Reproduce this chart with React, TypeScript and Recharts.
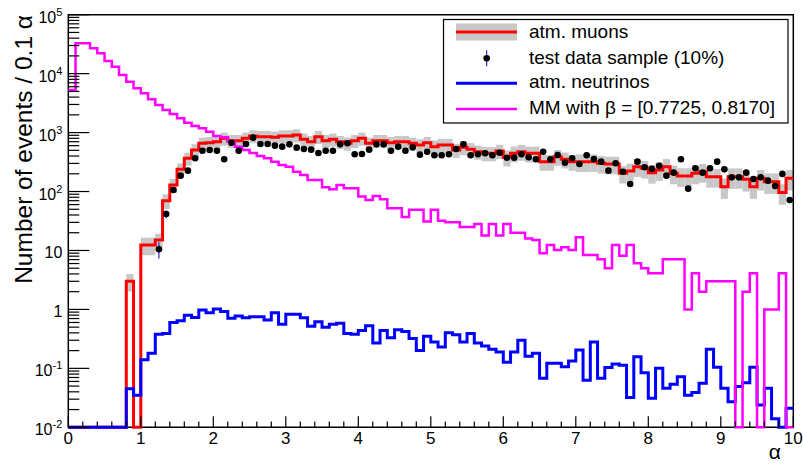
import React from "react";
import {
  ComposedChart,
  Line,
  Scatter,
  ErrorBar,
  XAxis,
  YAxis,
  ReferenceArea,
} from "recharts";

// 100 bins of 0.1 in alpha, from 0 to 10 (counts per bin, 0 = empty bin)
const muonCounts = [
  0, 0, 0, 0, 0, 0, 0, 0, 3.0, 0,
  12.4, 12.4, 15, 70, 129, 238, 366, 507, 658, 674,
  700, 800, 730, 730, 800, 875, 853, 853, 832, 875,
  875, 910, 769, 701, 853, 730, 769, 701, 658, 730,
  800, 658, 730, 730, 674, 701, 701, 658, 617, 674,
  577, 617, 617, 507, 563, 521, 474, 446, 446, 488,
  381, 446, 474, 445, 445, 321, 321, 390, 352, 321,
  321, 321, 321, 301, 293, 293, 204, 223, 264, 248,
  209, 232, 264, 204, 184, 184, 204, 217, 179, 179,
  121, 179, 179, 161, 121, 168, 147, 147, 96, 168,
];

// relative size of the grey uncertainty band around the muon histogram
const muonRelErr = [
  0.33, 0.33, 0.33, 0.33, 0.33, 0.33, 0.33, 0.33, 0.33, 0.33,
  0.33, 0.33, 0.28, 0.28, 0.27, 0.26, 0.25, 0.25, 0.25, 0.25,
  0.25, 0.25, 0.25, 0.25, 0.25, 0.25, 0.25, 0.25, 0.25, 0.25,
  0.25, 0.25, 0.25, 0.25, 0.25, 0.25, 0.25, 0.25, 0.25, 0.25,
  0.25, 0.25, 0.25, 0.25, 0.25, 0.25, 0.25, 0.25, 0.25, 0.25,
  0.27, 0.27, 0.27, 0.27, 0.27, 0.27, 0.27, 0.27, 0.27, 0.27,
  0.3, 0.3, 0.3, 0.3, 0.3, 0.3, 0.3, 0.3, 0.3, 0.3,
  0.33, 0.33, 0.33, 0.33, 0.33, 0.33, 0.33, 0.33, 0.33, 0.33,
  0.35, 0.35, 0.35, 0.35, 0.35, 0.35, 0.35, 0.35, 0.35, 0.35,
  0.38, 0.38, 0.38, 0.38, 0.38, 0.38, 0.38, 0.38, 0.38, 0.38,
];

const neutrinoCounts = [
  0, 0, 0, 0, 0, 0, 0, 0, 0.045, 0.035,
  0.14, 0.18, 0.38, 0.39, 0.6, 0.64, 0.8, 0.73, 0.98, 0.88,
  1.02, 0.92, 0.71, 0.77, 0.72, 0.75, 0.75, 0.66, 0.88, 0.56,
  0.83, 0.83, 0.72, 0.52, 0.62, 0.5, 0.56, 0.58, 0.39, 0.38,
  0.44, 0.53, 0.27, 0.44, 0.33, 0.45, 0.42, 0.32, 0.2, 0.35,
  0.28, 0.23, 0.4, 0.37, 0.28, 0.39, 0.27, 0.24, 0.21, 0.19,
  0.127, 0.19, 0.3, 0.16, 0.18, 0.068, 0.122, 0.122, 0.107, 0.133,
  0.205, 0.063, 0.28, 0.068, 0.103, 0.119, 0.113, 0.032, 0.158, 0.084,
  0.031, 0.1, 0.046, 0.054, 0.072, 0.035, 0.039, 0.056, 0.21, 0.104,
  0.046, 0.027, 0.049, 0.057, 0.104, 0.024, 0.046, 0.014, 0, 0.021,
];

const mmCounts = [
  5300, 32700, 32700, 26900, 22100, 16400, 13100, 9500, 7300, 5650,
  4640, 3670, 2940, 2420, 2070, 1750, 1470, 1290, 1180, 1035,
  875, 830, 700, 577, 507, 450, 400, 366, 321, 282,
  264, 217, 191, 157, 157, 118, 109, 129, 114, 114,
  82, 72, 84, 74, 52, 52, 37, 49, 49, 31,
  49, 32, 30, 30, 25, 25, 28, 18, 28, 18,
  28, 20, 20, 16, 15, 9, 12.4, 10.2, 11.3, 10.2,
  16.7, 8.4, 8.4, 7.1, 5.0, 12.4, 8.1, 12.4, 6.1, 5.0,
  4.1, 4.1, 7.1, 7.1, 7.1, 1.0, 4.1, 2.0, 3.0, 3.0,
  3.0, 3.0, 0, 2.0, 4.1, 0, 1.0, 1.0, 4.1, 0,
];

const dataCounts = [
  0, 0, 0, 0, 0, 0, 0, 0, 0, 0,
  0, 0, 10.5, 41.6, 106, 186, 226, 366, 493, 507,
  493, 352, 674, 493, 641, 820, 641, 641, 600, 577,
  632, 555, 527, 513, 451, 493, 493, 632, 658, 428,
  433, 513, 632, 632, 493, 577, 493, 562, 422, 474,
  412, 412, 428, 527, 632, 412, 428, 446, 412, 456,
  375, 376, 428, 381, 352, 474, 352, 417, 309, 366,
  293, 412, 357, 321, 226, 301, 217, 134, 321, 258,
  244, 274, 186, 209, 352, 112, 248, 209, 248, 321,
  238, 174, 174, 209, 163, 174, 153, 124, 199, 72,
];

const legendLabels = [
  "atm. muons",
  "test data sample (10%)",
  "atm. neutrinos",
  "MM with β = [0.7725, 0.8170]",
];
const yTitle = "Number of events / 0.1 α";
const xTitle = "α";

const Y_MIN = 0.01;
const Y_MAX = 100000;
const FONT = '"Liberation Sans", Arial, Helvetica, sans-serif';

// bin edges -> step rows (last edge repeats bin 99 so the step closes at 10)
const histRows = Array.from({ length: 101 }, (_, k) => {
  const b = Math.min(k, 99);
  return {
    x: k / 10,
    muon: Math.max(muonCounts[b], Y_MIN),
    nu: Math.max(neutrinoCounts[b], Y_MIN),
    mm: Math.max(mmCounts[b], Y_MIN),
  };
});

// data points at bin centres, poisson errors
const dataPoints = dataCounts.flatMap((v, k) =>
  v > 0 ? [{ x: (k + 0.5) / 10, y: v, err: Math.sqrt(v) }] : []
);

const xTicks = Array.from({ length: 51 }, (_, i) => (i * 2) / 10);
const yTicks: number[] = [];
for (let e = -2; e <= 4; e++) {
  for (let m = 1; m <= 9; m++) yTicks.push(Number((m * Math.pow(10, e)).toPrecision(3)));
}
yTicks.push(Y_MAX);

const renderXTick = (props: any) => {
  const { x, y, payload } = props;
  const v = payload.value;
  const major = Math.abs(v - Math.round(v)) < 1e-6;
  return (
    <g>
      <line x1={x} x2={x} y1={y} y2={y - (major ? 11 : 5.7)} stroke="#000" strokeWidth={1.2} />
      {major && (
        <text x={x} y={y + 17} textAnchor="middle" fontSize={17} fontFamily={FONT} fill="#000">
          {Math.round(v)}
        </text>
      )}
    </g>
  );
};

const renderYTick = (props: any) => {
  const { x, y, payload } = props;
  const v = payload.value;
  const e = Math.log10(v);
  const n = Math.round(e);
  const major = Math.abs(e - n) < 1e-6;
  let label: React.ReactNode = null;
  if (major) {
    label =
      n === 0 ? "1" : n === 1 ? "10" : (
        <>
          <tspan>10</tspan>
          <tspan dy={-7} fontSize={11}>{String(n)}</tspan>
        </>
      );
  }
  return (
    <g>
      <line x1={x} x2={x + (major ? 21 : 11)} y1={y} y2={y} stroke="#000" strokeWidth={1.2} />
      {major && (
        <text x={x - 6} y={y + 8} textAnchor="end" fontSize={16} fontFamily={FONT} fill="#000">
          {label}
        </text>
      )}
    </g>
  );
};

function LegendBox() {
  const rowY = [13, 39.3, 64.3, 90];
  const textY = [18.7, 45, 69.3, 95];
  return (
    <g transform="translate(443,19)">
      <rect x={0.5} y={0.5} width={344.5} height={103.5} fill="#fff" stroke="#000" strokeWidth={1.2} />
      <rect x={13} y={rowY[0] - 8.5} width={61} height={17} fill="#c8c8c8" />
      <line x1={13} x2={74} y1={rowY[0]} y2={rowY[0]} stroke="#ff0000" strokeWidth={3} />
      <line x1={43.7} x2={43.7} y1={rowY[1] - 8} y2={rowY[1] + 8} stroke="#0000cc" strokeWidth={1} />
      <circle cx={43.7} cy={rowY[1]} r={3.3} fill="#000" />
      <line x1={13} x2={74} y1={rowY[2]} y2={rowY[2]} stroke="#0000ff" strokeWidth={3} />
      <line x1={13} x2={74} y1={rowY[3]} y2={rowY[3]} stroke="#ff00ff" strokeWidth={2.5} />
      {legendLabels.map((t, i) => (
        <text key={t} x={86} y={textY[i]} fontSize={19} fontFamily={FONT} fill="#000">
          {t}
        </text>
      ))}
    </g>
  );
}

export default function App() {
  return (
    <div style={{ position: "absolute", left: 0, top: 0, width: 803, height: 465, background: "#fff" }}>
      <ComposedChart
        width={803}
        height={465}
        data={histRows}
        margin={{ top: 14.7, right: 9.7, bottom: 7.7, left: 8.3 }}
      >
        <XAxis
          type="number"
          dataKey="x"
          domain={[0, 10]}
          ticks={xTicks}
          interval={0}
          tick={renderXTick}
          tickLine={false}
          axisLine={false}
          tickSize={0}
          tickMargin={0}
          height={30}
        />
        <YAxis
          type="number"
          scale="log"
          domain={[Y_MIN, Y_MAX]}
          ticks={yTicks}
          interval={0}
          tick={renderYTick}
          tickLine={false}
          axisLine={false}
          tickSize={0}
          tickMargin={0}
          width={60}
        />
        {muonCounts.map((v, k) =>
          v > 0 ? (
            <ReferenceArea
              key={"band" + k}
              x1={k / 10}
              x2={(k + 1) / 10}
              y1={v * (1 - muonRelErr[k])}
              y2={v * (1 + muonRelErr[k])}
              fill="#c8c8c8"
              fillOpacity={1}
              stroke="none"
            />
          ) : null
        )}
        <ReferenceArea
          x1={0}
          x2={10}
          y1={Y_MIN}
          y2={Y_MAX}
          fill="none"
          fillOpacity={0}
          stroke="#000"
          strokeWidth={1.5}
        />
        <Line
          type="stepAfter"
          dataKey="muon"
          stroke="#ff0000"
          strokeWidth={3}
          dot={false}
          activeDot={false}
          isAnimationActive={false}
        />
        <Scatter
          data={dataPoints}
          dataKey="y"
          fill="#000"
          isAnimationActive={false}
          shape={(p: any) => <circle cx={p.cx} cy={p.cy} r={3.3} fill="#000" />}
        >
          <ErrorBar dataKey="err" direction="y" width={0} stroke="#0000cc" strokeWidth={1} />
        </Scatter>
        <Line
          type="stepAfter"
          dataKey="nu"
          stroke="#0000ff"
          strokeWidth={3}
          dot={false}
          activeDot={false}
          isAnimationActive={false}
        />
        <Line
          type="stepAfter"
          dataKey="mm"
          stroke="#ff00ff"
          strokeWidth={2.5}
          dot={false}
          activeDot={false}
          isAnimationActive={false}
        />
      </ComposedChart>
      <svg
        width={803}
        height={465}
        style={{ position: "absolute", left: 0, top: 0, pointerEvents: "none" }}
      >
        <text
          transform="translate(32,15) rotate(-90)"
          textAnchor="end"
          fontSize={24.5}
          fontFamily={FONT}
          fill="#000"
        >
          {yTitle}
        </text>
        <text x={781} y={459} textAnchor="end" fontSize={21} fontFamily={FONT} fill="#000">
          {xTitle}
        </text>
        <LegendBox />
      </svg>
    </div>
  );
}
